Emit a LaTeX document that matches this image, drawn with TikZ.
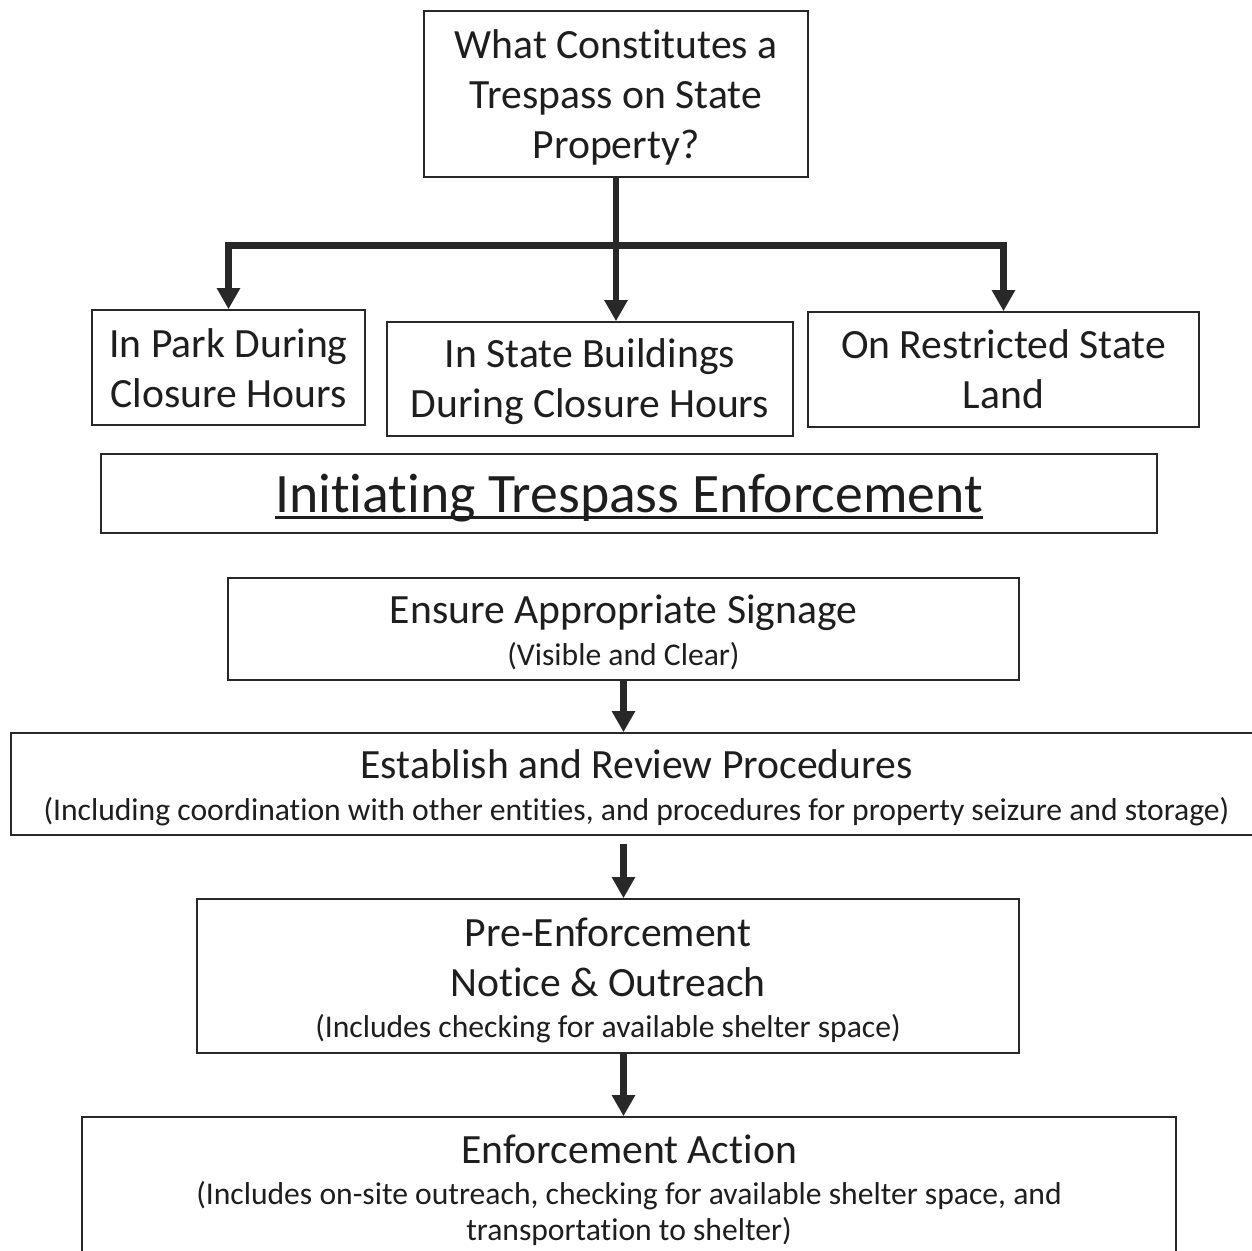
\documentclass[tikz,border=0pt]{standalone}
\usepackage{fontspec}
\setmainfont{Carlito}[Ligatures=NoCommon]
\usetikzlibrary{positioning,calc,arrows.meta}
\definecolor{inkgray}{RGB}{30,30,30}
\definecolor{rulegray}{RGB}{40,40,40}
\newcommand\mainsize{\fontsize{23.7pt}{28.5pt}\selectfont}
\newcommand\subsize{\fontsize{18pt}{21.6pt}\selectfont}
\newcommand\titlesize{\fontsize{31.7pt}{38pt}\selectfont}
\newcommand\trunderline[1]{\setbox0\hbox{#1}\rlap{\rule[-0.13cm]{\wd0}{0.06cm}}\box0}

\begin{document}
\begin{tikzpicture}[
  x=0.02cm,y=-0.02cm,
  every node/.style={font=\mainsize,text=inkgray},
  box/.style={rectangle,draw=rulegray,line width=0.9pt,fill=white,align=center,inner sep=0pt,text height=0pt,text depth=0pt},
  stem/.style={-{Triangle[length=0.42cm,width=0.44cm]},line width=3.8pt,draw=rulegray,line join=miter}
]
\useasboundingbox (0,0) rectangle (1252,1251);
\clip (0,0) rectangle (1252,1251);
\node[box,minimum width=7.68cm,minimum height=3.32cm,text height=2.60cm] (question) at (616,94) {What Constitutes a\\Trespass on State\\Property?};
\node[box,minimum width=5.46cm,minimum height=2.30cm,text height=1.60cm] (park) at (228.5,367.5) {In Park During\\Closure Hours};
\node[box,minimum width=8.12cm,minimum height=2.28cm,text height=1.56cm] (bldg) at (590,379) {In State Buildings\\During Closure Hours};
\node[box,minimum width=7.82cm,minimum height=2.30cm,text height=1.58cm] (land) at (1003.5,369.5) {On Restricted State\\Land};
\node[box,minimum width=21.12cm,minimum height=1.58cm,text height=0.74cm,font=\titlesize] (init) at (629,493.5) {\trunderline{Initiating Trespass Enforcement}};
\node[box,minimum width=15.82cm,minimum height=2.04cm,text height=1.44cm] (sign) at (623.5,629) {Ensure Appropriate Signage\\[-0.18cm]{\subsize (Visible and Clear)}};
\node[box,minimum width=25.02cm,minimum height=2.04cm,text height=1.44cm] (proc) at (636.5,784) {Establish and Review Procedures\\[-0.18cm]{\subsize (Including coordination with other entities, and procedures for property seizure and storage)}};
\node[box,minimum width=16.44cm,minimum height=3.08cm,text height=2.48cm] (pre) at (608,976) {Pre-Enforcement\\Notice \& Outreach\\[-0.18cm]{\subsize (Includes checking for available shelter space)}};
\node[box,minimum width=21.88cm,minimum height=2.96cm,text height=1.98cm] (enf) at (629,1191) {Enforcement Action\\[-0.18cm]{\subsize (Includes on-site outreach, checking for available shelter space, and}\\[-0.28cm]{\subsize transportation to shelter)}};
\coordinate (hub) at ($(question.south)+(2,68)$);
\draw[stem] (question.south) -- (question.south |- bldg.north);
\draw[stem] (hub) -| (park.north);
\draw[stem] (hub) -| (land.north);
\draw[stem] (sign.south) -- (proc.north -| sign.south);
\draw[stem,shorten <=0.16cm] (proc.south -| sign.south) -- (pre.north -| sign.south);
\draw[stem] (pre.south -| sign.south) -- (enf.north -| sign.south);
\end{tikzpicture}
\end{document}
